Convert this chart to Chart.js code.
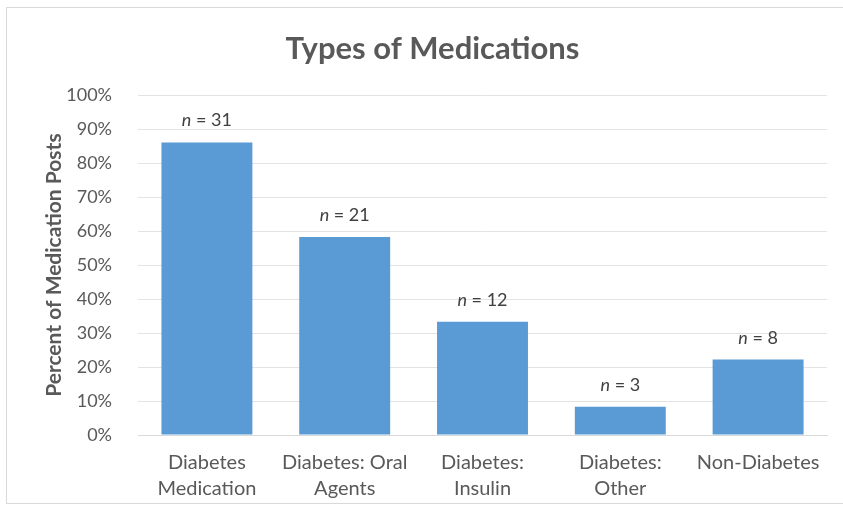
<!DOCTYPE html>
<html>
<head>
<meta charset="utf-8">
<title>Types of Medications</title>
<script src="https://cdn.jsdelivr.net/npm/chart.js@4.4.1/dist/chart.umd.min.js"></script>
<style>
    html, body {
        margin: 0;
        padding: 0;
        background: #ffffff;
    }
    #frame {
        position: absolute;
        left: 6px;
        top: 7px;
        width: 845px;
        height: 497px;
        border: 1px solid #d9d9d9;
        box-sizing: border-box;
    }
    #wrap {
        position: absolute;
        left: 0;
        top: 0;
        width: 843px;
        height: 513px;
    }
</style>
</head>
<body>
<div id="frame"></div>
<div id="wrap"><canvas id="medications-chart"></canvas></div>
<script>
// Medication post categories (multi-line labels)
const categories = [
    ['Diabetes', 'Medication'],
    ['Diabetes: Oral', 'Agents'],
    ['Diabetes:', 'Insulin'],
    ['Diabetes:', 'Other'],
    ['Non-Diabetes']
];

// Number of posts in each category
const postCounts = [31, 21, 12, 3, 8];

// Share of medication posts, in percent
const percentValues = [86.1, 58.3, 33.3, 8.3, 22.2];

const yTicks = [0, 10, 20, 30, 40, 50, 60, 70, 80, 90, 100];

const FONT = 'Lato, "Open Sans", sans-serif';
const TEXT_GRAY = '#595959';

// Writes "n = xx" above each bar, with an italic n
const countLabels = {
    id: 'countLabels',
    afterDatasetsDraw(chart) {
        const ctx = chart.ctx;
        const meta = chart.getDatasetMeta(0);
        ctx.save();
        ctx.fillStyle = '#404040';
        ctx.textBaseline = 'alphabetic';
        meta.data.forEach((bar, i) => {
            const italicPart = 'n';
            const restPart = ' = ' + postCounts[i];
            ctx.font = 'italic 18px ' + FONT;
            const w1 = ctx.measureText(italicPart).width;
            ctx.font = '18px ' + FONT;
            const w2 = ctx.measureText(restPart).width;
            const x0 = bar.x - (w1 + w2) / 2;
            const y = bar.y - 16;
            ctx.font = 'italic 18px ' + FONT;
            ctx.textAlign = 'left';
            ctx.fillText(italicPart, x0, y);
            ctx.font = '18px ' + FONT;
            ctx.fillText(restPart, x0 + w1, y);
        });
        ctx.restore();
    }
};

document.addEventListener('DOMContentLoaded', function() {
    const canvas = document.getElementById('medications-chart');
    const ctx = canvas.getContext('2d');

    new Chart(ctx, {
        type: 'bar',
        data: {
            labels: categories,
            datasets: [{
                label: 'Percent of Medication Posts',
                data: percentValues,
                backgroundColor: '#5b9bd5',
                borderWidth: 0,
                barPercentage: 1,
                categoryPercentage: 0.66
            }]
        },
        options: {
            responsive: true,
            maintainAspectRatio: false,
            animation: false,
            layout: {
                padding: { left: 38, right: 16, top: 20, bottom: 4 }
            },
            plugins: {
                legend: { display: false },
                tooltip: { enabled: false },
                title: {
                    display: true,
                    text: 'Types of Medications',
                    color: TEXT_GRAY,
                    font: { family: FONT, size: 31, weight: 'bold' },
                    padding: { top: 10, bottom: 28 }
                }
            },
            scales: {
                x: {
                    grid: { display: false },
                    border: { color: '#d9d9d9', width: 1 },
                    ticks: {
                        color: TEXT_GRAY,
                        font: { family: FONT, size: 20, lineHeight: 1.3 },
                        maxRotation: 0,
                        padding: 7
                    }
                },
                y: {
                    min: 0,
                    max: 100,
                    afterBuildTicks(axis) {
                        axis.ticks = yTicks.map(v => ({ value: v }));
                    },
                    afterFit(axis) {
                        // fixed axis width so the plot starts where the grid does
                        axis.width = 100;
                    },
                    grid: { color: '#e3e3e3', lineWidth: 1, drawTicks: false },
                    border: { display: false },
                    ticks: {
                        color: TEXT_GRAY,
                        font: { family: FONT, size: 18 },
                        padding: 26,
                        callback: value => value + '%'
                    },
                    title: {
                        display: true,
                        text: 'Percent of Medication Posts',
                        color: TEXT_GRAY,
                        font: { family: FONT, size: 21, weight: 'bold' },
                        padding: { bottom: 4 }
                    }
                }
            }
        },
        plugins: [countLabels]
    });
});
</script>
</body>
</html>
